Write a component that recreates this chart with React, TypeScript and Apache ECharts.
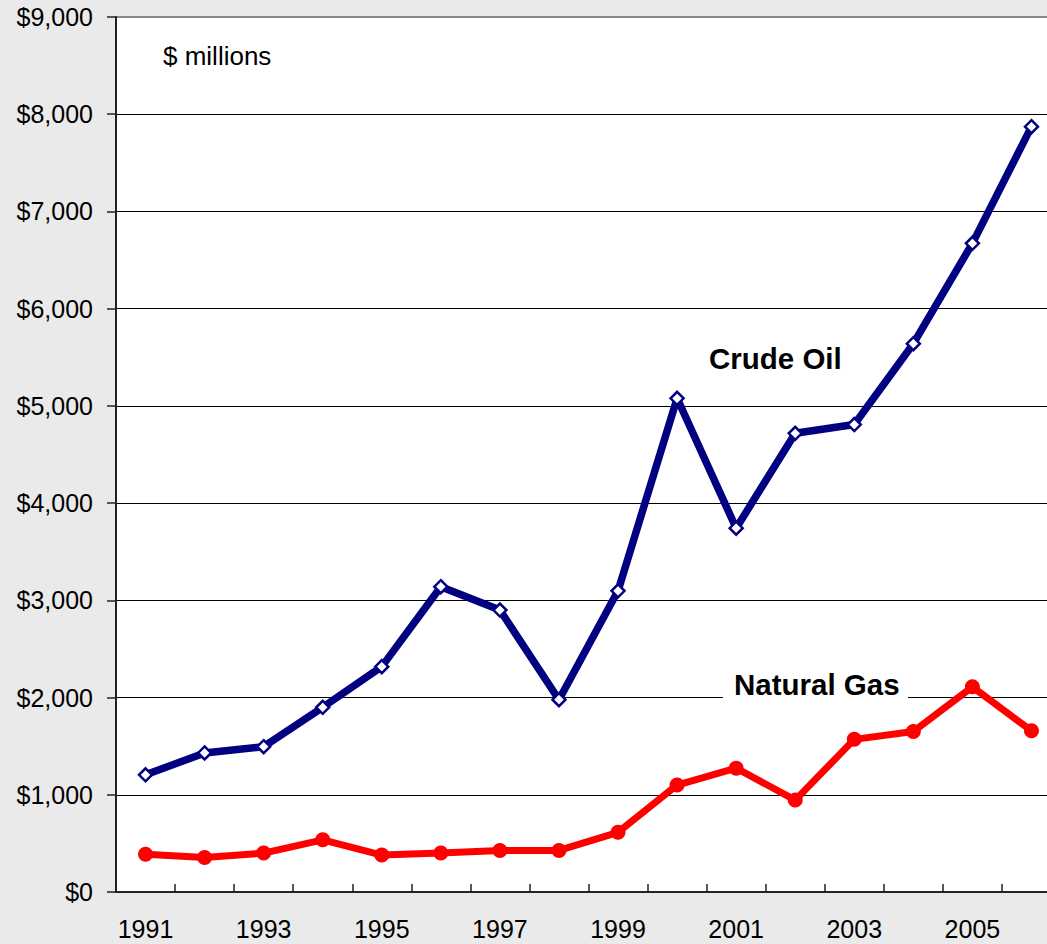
import React, { useEffect, useRef } from "react";
import * as echarts from "echarts";

const years = [
  "1991", "1992", "1993", "1994", "1995", "1996", "1997", "1998",
  "1999", "2000", "2001", "2002", "2003", "2004", "2005", "2006",
];
const crudeOil = [1205, 1430, 1495, 1900, 2318, 3140, 2900, 1978, 3098, 5078, 3742, 4718, 4808, 5640, 6672, 7872];
const naturalGas = [388, 356, 400, 537, 380, 401, 428, 428, 614, 1100, 1274, 945, 1570, 1651, 2110, 1658];
const yMin = 0;
const yMax = 9000;
const yStep = 1000;

const FONT = "'Liberation Sans', Arial, Helvetica, sans-serif";

export default function App() {
  const ref = useRef<HTMLDivElement>(null);

  useEffect(() => {
    if (!ref.current) return;
    const chart = echarts.init(ref.current, null, { renderer: "svg" });
    chart.setOption({
      animation: false,
      backgroundColor: "#EAEAEA",
      grid: {
        left: 116,
        top: 17,
        width: 945,
        height: 875,
        show: true,
        backgroundColor: "#FFFFFF",
        borderColor: "#888888",
        borderWidth: 2,
        containLabel: false,
        outerBoundsMode: "none",
      },
      xAxis: {
        type: "category",
        data: years,
        boundaryGap: true,
        axisLine: { show: true, lineStyle: { color: "#222222", width: 2 } },
        axisTick: {
          show: true,
          inside: true,
          length: 8,
          interval: 0,
          lineStyle: { color: "#222222", width: 1.5 },
        },
        axisLabel: {
          interval: 1,
          fontSize: 25,
          color: "#000000",
          margin: 24,
          fontFamily: FONT,
        },
        splitLine: { show: false },
      },
      yAxis: {
        type: "value",
        min: yMin,
        max: yMax,
        interval: yStep,
        axisLine: { show: true, lineStyle: { color: "#222222", width: 2 } },
        axisTick: { show: true, length: 9, lineStyle: { color: "#222222", width: 1.5 } },
        axisLabel: {
          fontSize: 25,
          color: "#000000",
          margin: 23,
          fontFamily: FONT,
          formatter: (v: number) => "$" + v.toLocaleString("en-US"),
        },
        splitLine: {
          show: true,
          showMaxLine: false,
          lineStyle: { color: "#000000", width: 1 },
        },
      },
      series: [
        {
          name: "Natural Gas",
          type: "line",
          data: naturalGas,
          showAllSymbol: true,
          symbol: "circle",
          symbolSize: 15,
          lineStyle: { color: "#FF0000", width: 7 },
          itemStyle: { color: "#FF0000" },
          z: 3,
        },
        {
          name: "Crude Oil",
          type: "line",
          data: crudeOil,
          showAllSymbol: true,
          symbol: "diamond",
          symbolSize: 13,
          lineStyle: { color: "#000080", width: 7.5 },
          itemStyle: { color: "#FFFFFF", borderColor: "#000080", borderWidth: 2.5 },
          z: 4,
        },
      ],
      graphic: [
        {
          type: "text",
          left: 163,
          top: 43,
          style: { text: "$ millions", font: `26px ${FONT}`, fill: "#000000" },
          z: 10,
        },
        {
          type: "text",
          left: 709,
          top: 343,
          style: { text: "Crude Oil", font: `bold 29.5px ${FONT}`, fill: "#000000" },
          z: 10,
        },
        {
          type: "rect",
          shape: { x: 723, y: 668, width: 185, height: 33 },
          style: { fill: "#FFFFFF" },
          z: 10,
        },
        {
          type: "text",
          left: 734,
          top: 669,
          style: { text: "Natural Gas", font: `bold 29.5px ${FONT}`, fill: "#000000" },
          z: 11,
        },
      ],
    });
    return () => chart.dispose();
  }, []);

  return (
    <div
      ref={ref}
      style={{ position: "fixed", left: 0, top: 0, width: 1047, height: 944 }}
    />
  );
}
